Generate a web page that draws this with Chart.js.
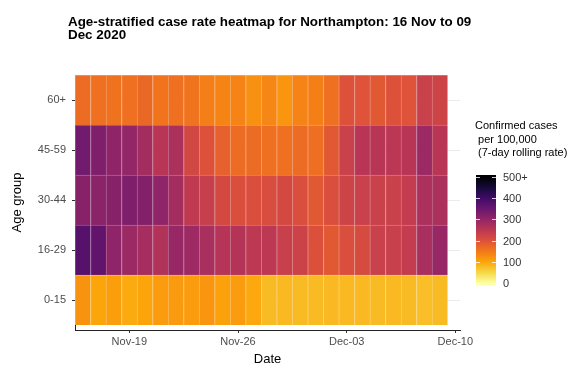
<!DOCTYPE html>
<html>
<head>
<meta charset="utf-8">
<script src="https://cdn.jsdelivr.net/npm/chart.js@4"></script>
<style>
  html, body { margin: 0; padding: 0; background: #fff; }
</style>
</head>
<body>
<canvas id="heatmap" width="581" height="372"></canvas>
<script>
const titleLines = ['Age-stratified case rate heatmap for Northampton: 16 Nov to 09', 'Dec 2020'];
const dates = ['16 Nov', '17 Nov', '18 Nov', '19 Nov', '20 Nov', '21 Nov', '22 Nov', '23 Nov',
  '24 Nov', '25 Nov', '26 Nov', '27 Nov', '28 Nov', '29 Nov', '30 Nov', '01 Dec',
  '02 Dec', '03 Dec', '04 Dec', '05 Dec', '06 Dec', '07 Dec', '08 Dec', '09 Dec'];
const ageGroups = ['0-15', '16-29', '30-44', '45-59', '60+'];

// 7-day rolling rate per 100,000, one value per date
const rate0to15 = [120, 100, 108, 95, 100, 110, 112, 110, 118, 105, 110, 97, 78, 80, 78, 78, 80, 80, 80, 78, 80, 78, 75, 78];
const rate16to29 = [375, 360, 305, 290, 278, 262, 295, 288, 275, 258, 260, 248, 248, 232, 228, 202, 190, 205, 212, 230, 232, 240, 275, 295];
const rate30to44 = [315, 310, 315, 325, 320, 305, 280, 245, 235, 215, 205, 205, 208, 215, 205, 190, 205, 225, 230, 230, 230, 240, 270, 270];
const rate45to59 = [340, 325, 305, 300, 280, 255, 270, 220, 200, 180, 165, 165, 160, 160, 165, 162, 190, 230, 255, 255, 250, 255, 290, 255];
const rate60plus = [165, 160, 158, 160, 170, 155, 160, 157, 143, 137, 138, 122, 135, 118, 138, 142, 160, 200, 198, 190, 200, 198, 230, 225];
const rates = [rate0to15, rate16to29, rate30to44, rate45to59, rate60plus];

// x axis ticks (day index from 16 Nov)
const tickDays = [3, 10, 17, 24];
const tickLabels = ['Nov-19', 'Nov-26', 'Dec-03', 'Dec-10'];

const legendTitle = ['Confirmed cases', ' per 100,000', ' (7-day rolling rate)'];
const legendValues = [0, 100, 200, 300, 400, 500];
const legendLabels = ['0', '100', '200', '300', '400', '500+'];
const maxRate = 500;

const inferno = ['#000004', '#160b39', '#420a68', '#6a176e', '#932667', '#bc3754',
  '#dd513a', '#f37819', '#fca50a', '#f6d746', '#fcffa4'];

function hexRgb(h) {
  return [1, 3, 5].map(i => parseInt(h.slice(i, i + 2), 16));
}

function rateRgb(v) {
  const t = (1 - Math.min(v, maxRate) / maxRate) * 10;
  const i = Math.min(Math.floor(t), 9);
  const f = t - i;
  const a = hexRgb(inferno[i]), b = hexRgb(inferno[i + 1]);
  return a.map((c, k) => Math.round(c + (b[k] - c) * f));
}

const rgb = c => `rgb(${c[0]},${c[1]},${c[2]})`;
const lighten = (c, amt) => c.map(x => Math.round(x + (255 - x) * amt));

const overlay = {
  id: 'overlay',
  afterDraw(chart) {
    const ctx = chart.ctx;
    ctx.save();
    ctx.fillStyle = '#000';
    ctx.textAlign = 'left';
    ctx.textBaseline = 'alphabetic';
    ctx.font = 'bold 13.4px "Liberation Sans", Arial, sans-serif';
    titleLines.forEach((line, i) => ctx.fillText(line, 68, 26 + i * 13));

    ctx.font = '11px "Liberation Sans", Arial, sans-serif';
    legendTitle.forEach((line, i) => ctx.fillText(line, 475, 129 + i * 13.5));

    // colour bar
    const top = 177, bottom = 283, left = 476, w = 20;
    const grad = ctx.createLinearGradient(0, bottom, 0, top);
    inferno.forEach((c, k) => grad.addColorStop(k / 10, inferno[10 - k]));
    ctx.fillStyle = grad;
    ctx.fillRect(left, top - 2, w, bottom - top + 4);

    ctx.strokeStyle = 'rgba(255,255,255,0.8)';
    ctx.lineWidth = 1;
    ctx.textBaseline = 'middle';
    ctx.fillStyle = '#333';
    legendValues.forEach((v, i) => {
      const y = Math.round(bottom - v / maxRate * (bottom - top)) + 0.5;
      ctx.beginPath();
      ctx.moveTo(left, y); ctx.lineTo(left + 4, y);
      ctx.moveTo(left + w - 4, y); ctx.lineTo(left + w, y);
      ctx.stroke();
      ctx.fillText(legendLabels[i], 503, y);
    });
    ctx.restore();
  }
};

new Chart(document.getElementById('heatmap'), {
  type: 'bar',
  data: {
    datasets: ageGroups.map((group, i) => ({
      label: group,
      data: rates[i].map((v, d) => ({ x: d, y: [i, i + 1] })),
      backgroundColor: rates[i].map(v => rgb(rateRgb(v))),
      borderColor: rates[i].map(v => rgb(lighten(rateRgb(v), 0.3))),
      borderWidth: { left: 1, top: 1, right: 0, bottom: 0 },
      borderSkipped: false,
      grouped: false,
      barPercentage: 1,
      categoryPercentage: 1
    }))
  },
  options: {
    responsive: false,
    animation: false,
    devicePixelRatio: 1,
    layout: { padding: { left: 0, right: 121, top: 75, bottom: 0 } },
    plugins: {
      legend: { display: false },
      tooltip: { enabled: false }
    },
    scales: {
      x: {
        type: 'linear',
        offset: false,
        min: -0.5,
        max: 24.3,
        afterBuildTicks: axis => { axis.ticks = tickDays.map(v => ({ value: v })); },
        afterFit: axis => { axis.height = 42; },
        ticks: {
          autoSkip: false,
          maxRotation: 0,
          padding: 2,
          color: '#4d4d4d',
          font: { family: '"Liberation Sans", Arial, sans-serif', size: 11 },
          callback: value => tickLabels[tickDays.indexOf(value)]
        },
        grid: { offset: false, drawOnChartArea: false, tickLength: 3, tickColor: '#333' },
        border: { color: '#222', width: 1 },
        title: {
          display: true,
          text: 'Date',
          color: '#000',
          font: { family: '"Liberation Sans", Arial, sans-serif', size: 13 },
          padding: { top: 0, bottom: 5 }
        }
      },
      y: {
        type: 'linear',
        min: -0.1,
        max: 5,
        afterBuildTicks: axis => { axis.ticks = ageGroups.map((g, i) => ({ value: i + 0.5 })); },
        afterFit: axis => { axis.width = 75; },
        ticks: {
          padding: 6,
          color: '#4d4d4d',
          font: { family: '"Liberation Sans", Arial, sans-serif', size: 11 },
          callback: value => ageGroups[Math.floor(value)]
        },
        grid: { color: '#ebebeb', tickLength: 3, tickColor: '#333' },
        border: { color: '#222', width: 1 },
        title: {
          display: true,
          text: 'Age group',
          color: '#000',
          font: { family: '"Liberation Sans", Arial, sans-serif', size: 13 },
          padding: { top: 10, bottom: 0 }
        }
      }
    }
  },
  plugins: [overlay]
});
</script>
</body>
</html>
